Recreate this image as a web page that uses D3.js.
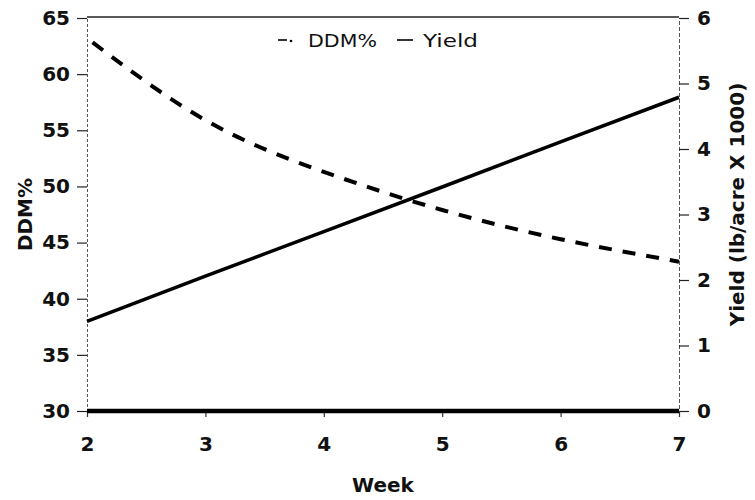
<!DOCTYPE html>
<html>
<head>
<meta charset="utf-8">
<script src="https://cdn.jsdelivr.net/npm/d3@7"></script>
<style>
	body { margin: 0; background: #fff; }
	svg { display: block; }
	text { font-family: "DejaVu Sans", sans-serif; fill: #111; }
</style>
</head>
<body>
<div id="chart"></div>
<script>
const weeks = [2, 3, 4, 5, 6, 7];
const ddm = [63.2, 55.9, 51.3, 47.9, 45.3, 43.3];
const yieldVals = [1.37, 2.06, 2.74, 3.42, 4.11, 4.79];
const leftTicks = [30, 35, 40, 45, 50, 55, 60, 65];
const rightTicks = [0, 1, 2, 3, 4, 5, 6];

const W = 755, H = 500;
const plot = { left: 87, right: 679, top: 18, bottom: 411 };

const svg = d3.select("#chart").append("svg")
	.attr("width", W)
	.attr("height", H);

const x = d3.scaleLinear().domain([2, 7]).range([plot.left, plot.right]);
const yL = d3.scaleLinear().domain([30, 65]).range([plot.bottom, plot.top]);
const yR = d3.scaleLinear().domain([0, 6]).range([plot.bottom, plot.top]);

// top frame line
svg.append("line")
	.attr("x1", plot.left).attr("x2", plot.right)
	.attr("y1", plot.top - 1).attr("y2", plot.top - 1)
	.attr("stroke", "#222").attr("stroke-width", 1.5);

// left axis
const gL = svg.append("g")
	.attr("transform", `translate(${plot.left},0)`)
	.call(d3.axisLeft(yL).tickValues(leftTicks).tickSize(10).tickPadding(7));
gL.select(".domain").attr("stroke", "#555").attr("stroke-dasharray", "3,2");
gL.selectAll(".tick line").attr("stroke", "#222").attr("stroke-width", 1.2);
gL.selectAll(".tick text")
	.style("font-family", "DejaVu Sans").style("font-weight", "bold").style("font-size", "20px");

// right axis
const gR = svg.append("g")
	.attr("transform", `translate(${plot.right},0)`)
	.call(d3.axisRight(yR).tickValues(rightTicks).tickFormat(d3.format("d")).tickSize(10).tickPadding(8));
gR.select(".domain").attr("stroke", "#555").attr("stroke-dasharray", "4,2");
gR.selectAll(".tick line").attr("stroke", "#222").attr("stroke-width", 1.2);
gR.selectAll(".tick text")
	.style("font-family", "DejaVu Sans").style("font-weight", "bold").style("font-size", "20px");

// bottom axis
const gB = svg.append("g")
	.attr("transform", `translate(0,${plot.bottom})`)
	.call(d3.axisBottom(x).tickValues(weeks).tickFormat(d3.format("d")).tickSize(6).tickPadding(20));
gB.select(".domain").remove();
gB.selectAll(".tick line").attr("stroke", "#333").attr("stroke-width", 1.2);
gB.selectAll(".tick text")
	.style("font-family", "DejaVu Sans").style("font-weight", "bold").style("font-size", "20px");

svg.append("line")
	.attr("x1", plot.left).attr("x2", plot.right)
	.attr("y1", plot.bottom).attr("y2", plot.bottom)
	.attr("stroke", "#000").attr("stroke-width", 4.5);

// series
const ddmLine = d3.line()
	.x((d, i) => x(weeks[i]))
	.y(d => yL(d))
	.curve(d3.curveNatural);

const yieldLine = d3.line()
	.x((d, i) => x(weeks[i]))
	.y(d => yR(d));

svg.append("path")
	.datum(ddm)
	.attr("d", ddmLine)
	.attr("fill", "none")
	.attr("stroke", "#000")
	.attr("stroke-width", 4)
	.attr("stroke-dasharray", "13,11")
	.attr("stroke-dashoffset", -7);

svg.append("path")
	.datum(yieldVals)
	.attr("d", yieldLine)
	.attr("fill", "none")
	.attr("stroke", "#000")
	.attr("stroke-width", 3.5);

// axis titles
svg.append("text")
	.attr("transform", `translate(32,${(plot.top + plot.bottom) / 2}) rotate(-90)`)
	.attr("text-anchor", "middle")
	.style("font-weight", "bold").style("font-size", "20px")
	.text("DDM%");

svg.append("text")
	.attr("transform", `translate(744,${(plot.top + plot.bottom) / 2 - 10}) rotate(-90)`)
	.attr("text-anchor", "middle")
	.style("font-weight", "bold").style("font-size", "20px")
	.text("Yield (lb/acre X 1000)");

svg.append("text")
	.attr("x", (plot.left + plot.right) / 2)
	.attr("y", 492)
	.attr("text-anchor", "middle")
	.style("font-weight", "bold").style("font-size", "20px")
	.text("Week");

// legend
const lg = svg.append("g");
lg.append("line")
	.attr("x1", 278).attr("x2", 287).attr("y1", 40).attr("y2", 40)
	.attr("stroke", "#000").attr("stroke-width", 1.6);
lg.append("circle")
	.attr("cx", 291).attr("cy", 41).attr("r", 1.3).attr("fill", "#000");
lg.append("text")
	.attr("x", 308).attr("y", 47)
	.attr("textLength", 69).attr("lengthAdjust", "spacingAndGlyphs")
	.style("font-size", "17px")
	.text("DDM%");
lg.append("line")
	.attr("x1", 397).attr("x2", 413).attr("y1", 40).attr("y2", 40)
	.attr("stroke", "#000").attr("stroke-width", 1.6);
lg.append("text")
	.attr("x", 423).attr("y", 47)
	.attr("textLength", 55).attr("lengthAdjust", "spacingAndGlyphs")
	.style("font-size", "17px")
	.text("Yield");
</script>
</body>
</html>
